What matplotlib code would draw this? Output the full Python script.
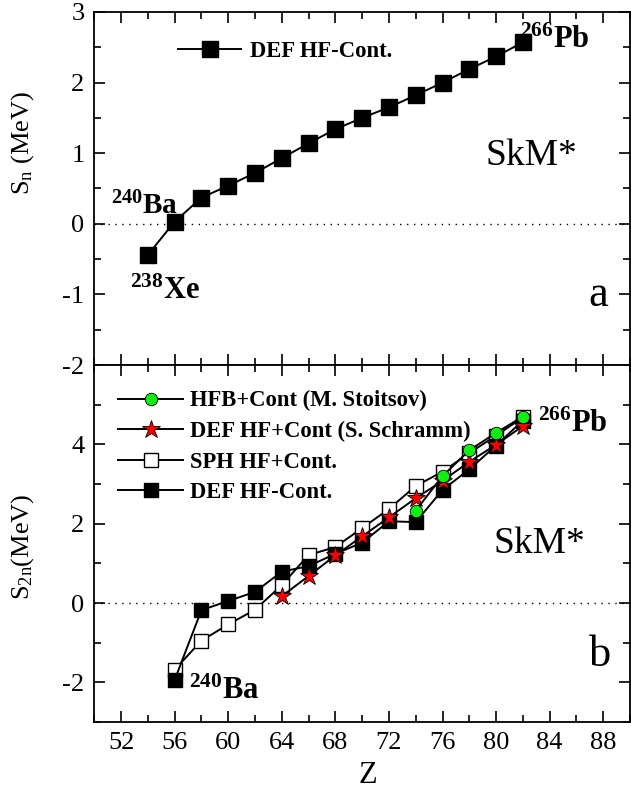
import matplotlib
matplotlib.use("Agg")
import matplotlib.pyplot as plt
from matplotlib.ticker import MultipleLocator, FixedLocator, NullFormatter
from matplotlib.font_manager import FontProperties

plt.rcParams['font.family'] = ['Liberation Serif', 'DejaVu Serif']
plt.rcParams['mathtext.fontset'] = 'custom'
plt.rcParams['mathtext.rm'] = 'Liberation Serif'
plt.rcParams['mathtext.it'] = 'Liberation Serif:italic'
plt.rcParams['mathtext.bf'] = 'Liberation Serif:bold'
plt.rcParams['axes.unicode_minus'] = False

# ---- data: panel a ----
Z_a = [54, 56, 58, 60, 62, 64, 66, 68, 70, 72, 74, 76, 78, 80, 82]
Sn_def_nocont = [-0.44, 0.03, 0.37, 0.54, 0.72, 0.93, 1.14, 1.34, 1.50, 1.65,
                 1.82, 2.00, 2.19, 2.37, 2.57]

# ---- data: panel b ----
Z_b = [56, 58, 60, 62, 64, 66, 68, 70, 72, 74, 76, 78, 80, 82]
S2n_def_nocont = [-1.94, -0.18, 0.05, 0.28, 0.79, 0.93, 1.24, 1.52, 2.06, 2.04,
                  2.85, 3.37, 3.97, 4.60]
S2n_sph = [-1.68, -0.95, -0.54, -0.17, 0.45, 1.21, 1.41, 1.89, 2.37, 2.95,
           3.31, 3.78, 4.22, 4.68]
Z_star = [64, 66, 68, 70, 72, 74, 76, 78, 80, 82]
S2n_def_cont = [0.17, 0.68, 1.20, 1.68, 2.16, 2.64, 3.08, 3.56, 3.99, 4.46]
Z_hfb = [74, 76, 78, 80, 82]
S2n_hfb = [2.33, 3.20, 3.85, 4.29, 4.70]

labels_b = ['HFB+Cont (M. Stoitsov)', 'DEF HF+Cont (S. Schramm)',
            'SPH HF+Cont.', 'DEF HF-Cont.']
label_a = 'DEF HF-Cont.'

W, H = 631, 799
fig = plt.figure(figsize=(W / 100, H / 100), dpi=100)
L, R = 94.3, 630.0
ya_top, mid, yb_bot = 12.0, 365.0, 722.0
ax1 = fig.add_axes([L / W, 1 - mid / H, (R - L) / W, (mid - ya_top) / H])
ax2 = fig.add_axes([L / W, 1 - yb_bot / H, (R - L) / W, (yb_bot - mid) / H])

lw = 1.4
leg_font = FontProperties(family='Liberation Serif', weight='bold', size=16.3)

for ax in (ax1, ax2):
    ax.set_xlim(50, 90)
    ax.xaxis.set_major_locator(MultipleLocator(4))
    ax.xaxis.set_minor_locator(MultipleLocator(2))
    ax.tick_params(which='both', direction='in', top=True, right=True,
                   width=1.2, labelsize=19)
    ax.tick_params(which='major', length=8)
    ax.tick_params(which='minor', length=4.8)
    ax.tick_params(axis='x', pad=7)
    ax.tick_params(axis='y', pad=7)
    for s in ax.spines.values():
        s.set_linewidth(1.3)
    ax.axhline(0, color='k', lw=1.0, ls=(0, (1, 4)), zorder=1)

# ---- panel a ----
ax1.set_ylim(-2, 3)
ax1.yaxis.set_major_locator(MultipleLocator(1))
ax1.yaxis.set_minor_locator(MultipleLocator(0.5))
ax1.xaxis.set_major_formatter(NullFormatter())
ax1.plot(Z_a, Sn_def_nocont, color='k', lw=lw, marker='s', ms=11,
         mfc='k', mec='k', label=label_a, zorder=3)
ax1.legend(loc='upper left', bbox_to_anchor=(0.156, 0.918), frameon=False,
           prop=leg_font, handlelength=2.8, handletextpad=0.38, borderpad=0,
           borderaxespad=0, numpoints=1)
ax1.set_ylabel(r'S$_\mathrm{n}$ (MeV)', fontsize=19)
ax1.yaxis.set_label_coords(-0.108, 0.63)

ax1.text(81.75, 2.49, r'$^{\mathbf{266}}\mathbf{Pb}$', fontsize=22, ha='left', va='baseline')
ax1.text(51.24, 0.13, r'$^{\mathbf{240}}\mathbf{Ba}$', fontsize=21, ha='left', va='baseline')
ax1.text(52.7, -1.06, r'$^{\mathbf{238}}\mathbf{Xe}$', fontsize=22, ha='left', va='baseline')
ax1.text(79.2, 0.83, 'SkM*', fontsize=27, ha='left', va='baseline')
ax1.text(86.9, -1.17, 'a', fontsize=32, ha='left', va='baseline')

# ---- panel b ----
ax2.set_ylim(-3, 6)
ax2.yaxis.set_major_locator(FixedLocator([-2, 0, 2, 4]))
ax2.yaxis.set_minor_locator(MultipleLocator(1))
ms_b = 9.4
h_sph, = ax2.plot(Z_b, S2n_sph, color='k', lw=lw, marker='s', ms=ms_b,
                  mfc='white', mec='k', mew=1.0, zorder=3)
h_def, = ax2.plot(Z_b, S2n_def_nocont, color='k', lw=lw, marker='s', ms=ms_b,
                  mfc='k', mec='k', zorder=4)
h_star, = ax2.plot(Z_star, S2n_def_cont, color='k', lw=lw, marker='*', ms=13.5,
                   mfc='#ff0000', mec='k', mew=0.6, zorder=5)
h_hfb, = ax2.plot(Z_hfb, S2n_hfb, color='k', lw=lw, marker='o', ms=9,
                  mfc='#11ee11', mec='k', mew=0.6, zorder=6)
ax2.legend([h_hfb, h_star, h_sph, h_def], labels_b, loc='upper left',
           bbox_to_anchor=(0.045, 0.929), frameon=False, prop=leg_font,
           handlelength=2.86, handletextpad=0.3, borderpad=0, borderaxespad=0,
           labelspacing=0.42, numpoints=1)
ax2.set_ylabel(r'S$_\mathrm{2n}$(MeV)', fontsize=19)
ax2.yaxis.set_label_coords(-0.108, 0.49)
ax2.set_xlabel('Z', fontsize=22)
ax2.xaxis.set_label_coords(0.51, -0.108)

ax2.text(83.1, 4.32, r'$^{\mathbf{266}}\mathbf{Pb}$', fontsize=22, ha='left', va='baseline')
ax2.text(57.1, -2.43, r'$^{\mathbf{240}}\mathbf{Ba}$', fontsize=22, ha='left', va='baseline')
ax2.text(79.8, 1.25, 'SkM*', fontsize=27, ha='left', va='baseline')
ax2.text(86.9, -1.59, 'b', fontsize=32, ha='left', va='baseline')

fig.savefig('out.png', dpi=100)
